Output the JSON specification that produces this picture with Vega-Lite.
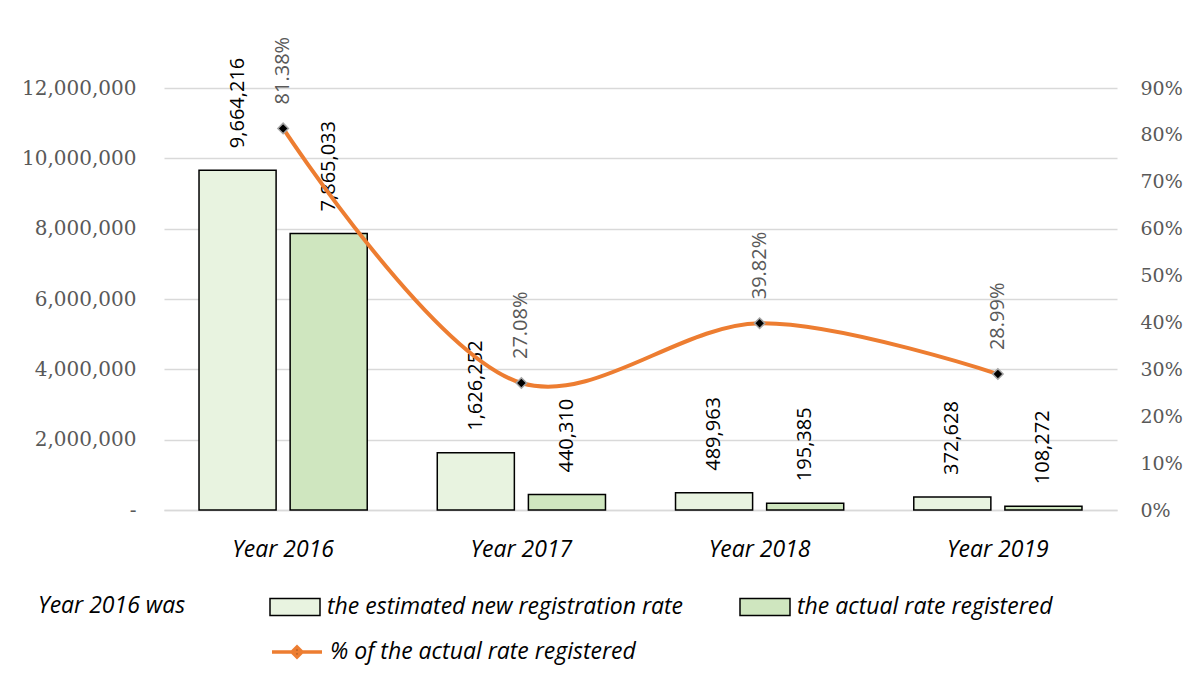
{
  "$schema": "https://vega.github.io/schema/vega-lite/v6.json",
  "width": 953,
  "height": 422,
  "autosize": "none",
  "padding": {"left": 164, "top": 88, "right": 82, "bottom": 174},
  "background": "white",
  "config": {"view": {"stroke": null}, "font": "Open Sans"},
  "datasets": {
    "bars": [
      {"year": "Year 2016", "measure": "the estimated new registration rate", "value": 9664216},
      {"year": "Year 2016", "measure": "the actual rate registered", "value": 7865033},
      {"year": "Year 2017", "measure": "the estimated new registration rate", "value": 1626252},
      {"year": "Year 2017", "measure": "the actual rate registered", "value": 440310},
      {"year": "Year 2018", "measure": "the estimated new registration rate", "value": 489963},
      {"year": "Year 2018", "measure": "the actual rate registered", "value": 195385},
      {"year": "Year 2019", "measure": "the estimated new registration rate", "value": 372628},
      {"year": "Year 2019", "measure": "the actual rate registered", "value": 108272}
    ],
    "pct": [
      {"year": "Year 2016", "series": "% of the actual rate registered", "pct": 0.8138},
      {"year": "Year 2017", "series": "% of the actual rate registered", "pct": 0.2708},
      {"year": "Year 2018", "series": "% of the actual rate registered", "pct": 0.3982},
      {"year": "Year 2019", "series": "% of the actual rate registered", "pct": 0.2899}
    ]
  },
  "layer": [
    {
      "data": {"name": "bars"},
      "encoding": {
        "x": {
          "field": "year", "type": "nominal", "sort": null,
          "scale": {"paddingInner": 0.294, "paddingOuter": 0.147},
          "axis": {
            "title": null, "labelAngle": 0, "ticks": false, "labelPadding": 28,
            "labelFont": "Open Sans", "labelFontStyle": "italic", "labelFontSize": 23, "labelColor": "black",
            "domainColor": "#d9d9d9", "domainWidth": 1.5
          }
        },
        "xOffset": {
          "field": "measure", "type": "nominal",
          "sort": ["the estimated new registration rate", "the actual rate registered"],
          "scale": {"paddingInner": 0.154, "paddingOuter": 0}
        },
        "y": {
          "field": "value", "type": "quantitative",
          "scale": {"domain": [0, 12000000], "nice": false},
          "axis": {
            "title": null, "orient": "left", "values": [0, 2000000, 4000000, 6000000, 8000000, 10000000, 12000000],
            "format": ",.0f", "labelExpr": "datum.value === 0 ? '-\u00a0\u00a0\u00a0\u00a0' : datum.label",
            "domain": false, "ticks": false, "tickSize": 0, "labelPadding": 28,
            "labelFont": "DejaVu Serif", "labelFontSize": 20, "labelColor": "#595959",
            "grid": true, "gridColor": "#d9d9d9", "gridWidth": 1.5
          }
        }
      },
      "layer": [
        {
          "mark": {"type": "bar", "stroke": "black", "strokeWidth": 1.5},
          "encoding": {
            "fill": {
              "field": "measure", "type": "nominal",
              "scale": {"domain": ["the estimated new registration rate", "the actual rate registered"], "range": ["#e8f3e0", "#cfe6bf"]},
              "legend": {
                "orient": "none", "legendX": -126, "legendY": 493, "direction": "horizontal",
                "title": "Year 2016 was", "titleOrient": "left", "titlePadding": 83,
                "titleAnchor": "middle", "titleBaseline": "line-top", "titleLineHeight": 13,
                "titleFont": "Open Sans", "titleFontStyle": "italic", "titleFontWeight": "normal", "titleFontSize": 23, "titleColor": "black",
                "labelFont": "Open Sans", "labelFontStyle": "italic", "labelFontSize": 23, "labelColor": "black", "labelLimit": 0, "labelOffset": 6,
                "symbolType": "M-1,-0.34H1V0.34H-1Z", "symbolSize": 2500, "symbolStrokeColor": "black", "symbolStrokeWidth": 1.5,
                "columnPadding": 53
              }
            }
          }
        },
        {
          "mark": {"type": "text", "angle": 270, "align": "left", "baseline": "middle", "dx": 22, "fontSize": 20, "font": "Open Sans", "color": "black"},
          "encoding": {"text": {"field": "value", "type": "quantitative", "format": ","}}
        }
      ]
    },
    {
      "data": {"name": "pct"},
      "encoding": {
        "x": {"field": "year", "type": "nominal", "sort": null},
        "y": {
          "field": "pct", "type": "quantitative",
          "scale": {"domain": [0, 0.9], "nice": false},
          "axis": {
            "title": null, "orient": "right", "values": [0, 0.1, 0.2, 0.3, 0.4, 0.5, 0.6, 0.7, 0.8, 0.9],
            "format": ".0%", "domain": false, "ticks": false, "tickSize": 0, "labelPadding": 23, "grid": false,
            "labelFont": "DejaVu Serif", "labelFontSize": 19, "labelColor": "#595959"
          }
        }
      },
      "layer": [
        {
          "mark": {"type": "line", "interpolate": "catmull-rom", "strokeWidth": 4},
          "encoding": {
            "stroke": {
              "field": "series", "type": "nominal",
              "scale": {"domain": ["% of the actual rate registered"], "range": ["#ED7D31"]},
              "legend": {
                "orient": "none", "legendX": 106, "legendY": 537, "title": null,
                "labelFont": "Open Sans", "labelFontStyle": "italic", "labelFontSize": 23, "labelColor": "black", "labelLimit": 0, "labelOffset": 6,
                "symbolType": "M-1,0H1M0,-0.2L0.2,0L0,0.2L-0.2,0Z", "symbolSize": 2500, "symbolStrokeWidth": 3.5,
                "symbolFillColor": "black",
                "encode": {"symbols": {"update": {"fill": {"value": "black"}, "stroke": {"value": "#ED7D31"}}}}
              }
            }
          }
        },
        {
          "mark": {"type": "point", "shape": "diamond", "filled": true, "fill": "black", "stroke": "#a6a6a6", "strokeWidth": 1.5, "size": 110, "opacity": 1}
        },
        {
          "mark": {"type": "text", "angle": 270, "align": "left", "baseline": "middle", "dx": 24, "fontSize": 20, "font": "Open Sans", "color": "#595959"},
          "encoding": {"text": {"field": "pct", "type": "quantitative", "format": ".2%"}}
        }
      ]
    }
  ],
  "resolve": {"scale": {"y": "independent"}}
}
